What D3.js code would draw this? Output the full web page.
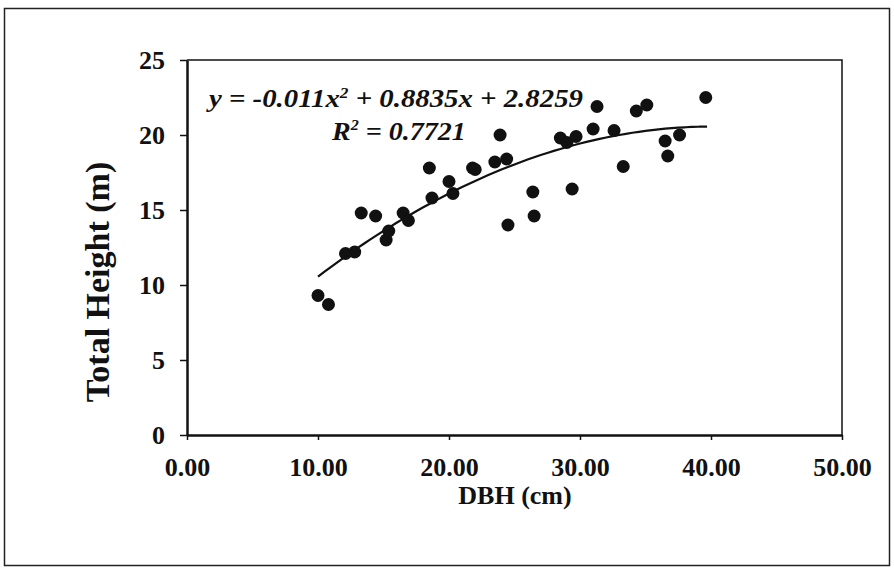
<!DOCTYPE html>
<html>
<head>
<meta charset="utf-8">
<script src="https://cdn.jsdelivr.net/npm/d3@7"></script>
<style>
  body { margin: 0; background: #fff; }
  svg text { font-family: "Liberation Serif", "DejaVu Serif", serif; font-weight: bold; fill: #111; }
</style>
</head>
<body>
<svg id="chart" width="894" height="570"></svg>
<script>
// DBH (cm) and total height (m)
var dbh    = [10.0, 10.8, 12.1, 12.8, 13.3, 14.4, 15.2, 15.4, 16.5, 16.9, 18.5, 18.7, 20.0, 20.3,
              21.8, 22.0, 23.5, 23.9, 24.4, 24.5, 26.4, 26.5, 28.5, 29.0, 29.4, 29.7, 31.0, 31.3,
              32.6, 33.3, 34.3, 35.1, 36.5, 36.7, 37.6, 39.6];
var height = [9.3, 8.7, 12.1, 12.2, 14.8, 14.6, 13.0, 13.6, 14.8, 14.3, 17.8, 15.8, 16.9, 16.1,
              17.8, 17.7, 18.2, 20.0, 18.4, 14.0, 16.2, 14.6, 19.8, 19.5, 16.4, 19.9, 20.4, 21.9,
              20.3, 17.9, 21.6, 22.0, 19.6, 18.6, 20.0, 22.5];

// polynomial trendline shown on the chart
var trendCoef = [2.8259, 0.8835, -0.011];
var trendRange = [10.0, 39.7];

var xTicks = [0, 10, 20, 30, 40, 50];
var yTicks = [0, 5, 10, 15, 20, 25];

var svg = d3.select('#chart');
var plot = {left: 187, right: 842, top: 60, bottom: 435};

// outer frame
svg.append('rect')
    .attr('x', 4.5).attr('y', 8.5)
    .attr('width', 885).attr('height', 557)
    .attr('fill', 'none')
    .attr('stroke', '#222')
    .attr('stroke-width', 1.5);

var x = d3.scaleLinear().domain([0, 50]).range([plot.left, plot.right]);
var y = d3.scaleLinear().domain([0, 25]).range([plot.bottom, plot.top]);

// top and right border of the plot area
svg.append('path')
    .attr('d', 'M' + x(0) + ',' + y(25) + 'H' + x(50) + 'V' + y(0))
    .attr('fill', 'none')
    .attr('stroke', '#111')
    .attr('stroke-width', 1.5);

var xAxis = d3.axisBottom(x).tickValues(xTicks).tickSize(5).tickSizeOuter(0)
    .tickFormat(d3.format('.2f'));
var yAxis = d3.axisLeft(y).tickValues(yTicks).tickSize(7).tickSizeOuter(0);

var gx = svg.append('g')
    .attr('transform', 'translate(0,' + plot.bottom + ')')
    .call(xAxis);
gx.select('.domain').attr('stroke', '#111').attr('stroke-width', 2.5);
gx.selectAll('.tick line').attr('stroke', '#111').attr('stroke-width', 1.5);
gx.selectAll('.tick text')
    .attr('y', 23)
    .attr('dy', '0.71em')
    .style('font-size', '26px')
    .style('font-family', '"Liberation Serif", serif')
    .attr('fill', '#111');

var gy = svg.append('g')
    .attr('transform', 'translate(' + plot.left + ',0)')
    .call(yAxis);
gy.select('.domain').attr('stroke', '#111').attr('stroke-width', 2.5);
gy.selectAll('.tick line').attr('stroke', '#111').attr('stroke-width', 1.5);
gy.selectAll('.tick text')
    .attr('x', -22)
    .attr('dy', '0.34em')
    .style('font-size', '26px')
    .style('font-family', '"Liberation Serif", serif')
    .attr('fill', '#111');

// trendline
var line = d3.line()
    .x(function(d){ return x(d); })
    .y(function(d){ return y(trendCoef[0] + trendCoef[1]*d + trendCoef[2]*d*d); })
    .curve(d3.curveMonotoneX);
var trendX = d3.range(trendRange[0], trendRange[1], 0.5).concat([trendRange[1]]);
svg.append('path')
    .attr('d', line(trendX))
    .attr('fill', 'none')
    .attr('stroke', '#111')
    .attr('stroke-width', 2.2);

// points
svg.append('g').selectAll('circle')
    .data(dbh)
    .enter().append('circle')
    .attr('cx', function(d){ return x(d); })
    .attr('cy', function(d, i){ return y(height[i]); })
    .attr('r', 6.5)
    .attr('fill', '#111');

// stretch a label group horizontally to a target width
function fitWidth(g, left, baseline, width) {
    var w = g.node().getBBox().width;
    g.attr('transform', 'translate(' + left + ',' + baseline + ') scale(' + (width / w) + ',1)');
}

// equation labels
var eqG = svg.append('g');
var eq = eqG.append('text')
    .style('font-size', '25px')
    .style('font-style', 'italic');
eq.append('tspan').text('y = -0.011x');
eq.append('tspan').attr('dy', -9).style('font-size', '15px').text('2');
eq.append('tspan').attr('dy', 9).text(' + 0.8835x + 2.8259');
fitWidth(eqG, 209, 107, 378);

var r2G = svg.append('g');
var r2 = r2G.append('text')
    .style('font-size', '26px')
    .style('font-style', 'italic');
r2.append('tspan').text('R');
r2.append('tspan').attr('dy', -10).style('font-size', '15px').text('2');
r2.append('tspan').attr('dy', 10).text(' = 0.7721');
fitWidth(r2G, 332, 140, 135);

// axis titles
svg.append('text')
    .attr('x', 515).attr('y', 504)
    .attr('text-anchor', 'middle')
    .style('font-size', '26px')
    .text('DBH (cm)');

svg.append('text')
    .attr('transform', 'translate(109,282) rotate(-90)')
    .attr('text-anchor', 'middle')
    .style('font-size', '34px')
    .text('Total Height (m)');
</script>
</body>
</html>
